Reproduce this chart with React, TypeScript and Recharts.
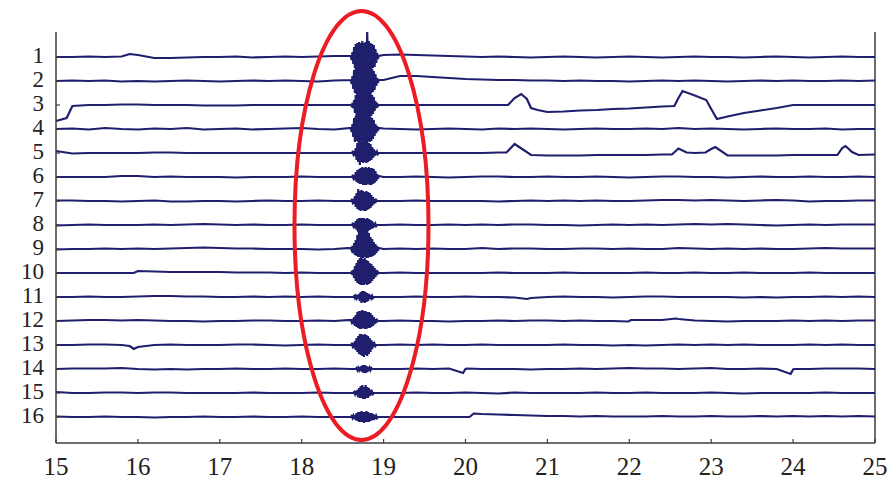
import React from "react";
import { LineChart, Line, XAxis, YAxis, ReferenceLine, ReferenceDot } from "recharts";

// sample times (s)
const BASE_T = [15.0, 15.2, 15.4, 15.6, 15.8, 16.0, 16.2, 16.4, 16.6, 16.8, 17.0, 17.2, 17.4, 17.6, 17.8, 18.0, 18.2, 18.4, 18.6, 18.8, 19.0, 19.2, 19.4, 19.6, 19.8, 20.0, 20.2, 20.4, 20.6, 20.8, 21.0, 21.2, 21.4, 21.6, 21.8, 22.0, 22.2, 22.4, 22.6, 22.8, 23.0, 23.2, 23.4, 23.6, 23.8, 24.0, 24.2, 24.4, 24.6, 24.8, 25.0];
const BURST_T = [18.6, 18.61, 18.62, 18.63, 18.64, 18.65, 18.66, 18.67, 18.68, 18.69, 18.7, 18.71, 18.72, 18.73, 18.74, 18.75, 18.76, 18.77, 18.78, 18.79, 18.8, 18.81, 18.82, 18.83, 18.84, 18.85, 18.86, 18.87, 18.88, 18.89, 18.9, 18.91, 18.92, 18.93, 18.94];

const X_TICKS = [15, 16, 17, 18, 19, 20, 21, 22, 23, 24, 25];
const CHANNEL_LABELS = [1, 2, 3, 4, 5, 6, 7, 8, 9, 10, 11, 12, 13, 14, 15, 16];

// amplitude units per channel spacing
const AMP = 24;

// channel signals (amplitude, up is positive); null = inside the burst window
const CH1_BASE = [0, 0, 0.5, 0, 0.5, 2, -1, -1, -0.5, 0, 0, 0.5, -0.5, 0, 0.5, 0, 0.5, 1, null, null, 2, 2.5, 2, 1.5, 1, 0.5, 0, 0.5, 0, -0.5, 0, 0.5, 0, -0.5, 0, 0.5, 0, -0.5, 0, 0.5, 0, 0, -0.5, 0, 0.5, 0, -0.5, 0, 0.5, 0, 0];
const CH1_BURST = [1, -3, 5, -7, 10, -11, 13, -12, 14, -12, 15, -13, 14, -12, 16, -13, 14, -12, 15, -13, 25, -12, 16, -13, 14, -12, 13, -11, 12, -10, 8, -6, 4, -2, 1];
const CH1_EXTRA = [[15.9, 3]];

const CH2_BASE = [0, 0.5, 0, 0.5, -0.5, 0, -0.5, 0, 0.5, 0, -0.5, 0, 0.5, 0, 0.5, 0, -0.5, 0.5, null, null, 1, 5, 5, 4, 3, 2, 1.5, 1, 1, 0.5, 0.5, 0, 0.5, 0, 0, -0.5, 0, 0.5, 0, 0.5, 0, -0.5, 0, 0.5, 0, 0.5, 0, 0, 0.5, 0, 0.5];
const CH2_BURST = [1, -3, 5, -8, 11, -12, 13, -13, 12, -13, 14, -12, 13, -13, 12, -14, 13, -12, 13, -13, 12, -13, 14, -12, 13, -12, 12, -11, 10, -9, 7, -5, 3, -2, 1];
const CH2_EXTRA: number[][] = [];

const CH3_BASE = [-16, -1, 0, 0, 0.5, 0.5, 0, 0, 0, -0.5, -0.5, -0.5, 0, 0, 0, 0, 0, 0, null, null, 0, 0, 0, 0, 0, 0, 0, 0, 7, -3, -7, -6.5, -5.5, -5, -4, -3.5, -2.5, -1.5, 7, 9.5, -4, -11.5, -8, -5.5, -3, 0, 0, 0, 0, 0, 0];
const CH3_BURST = [0, -1, 2, -3, 5, -8, 10, -12, 13, -12, 13, -13, 12, -13, 13, -12, 13, -13, 12, -13, 13, -12, 13, -12, 12, -11, 10, -9, 8, -6, 4, -3, 2, -1, 0];
const CH3_EXTRA = [[15.13, -13], [20.52, 0], [20.68, 11], [20.75, 6], [20.88, -5], [22.55, -1], [22.65, 14], [22.94, 5], [23.07, -14]];

const CH4_BASE = [0, 0.5, -0.5, 1, 0, -0.5, 0.5, 0, 1, -0.5, 0, 0.5, -0.5, 0, 0.5, 1, 0, -0.5, null, null, 0.5, 0, -0.5, 0, 0.5, 0, -0.5, 0.5, 0, 0.5, 0, -0.5, 0, 0.5, 0, 0, 0.5, 0, 1, 0, 0.5, 0, -0.5, 0, 0.5, 0, 0, 0.5, -0.5, 0, 0];
const CH4_BURST = [1, -3, 5, -8, 11, -13, 13, -12, 14, -13, 13, -14, 13, -12, 14, -13, 12, -14, 13, -13, 14, -12, 13, -13, 12, -12, 11, -10, 9, -7, 5, -4, 3, -2, 1];
const CH4_EXTRA: number[][] = [];

const CH5_BASE = [2, -0.5, 0, 0, 0, 0, 0.5, 0.5, 0, 0, 0, 0, 0, 0, 0, 0, 0, 0, null, null, 0, 0, 0, 0, 0, 0, 0, 0.5, 9, -2, -2.5, -2.5, -2.5, -2, -2, -2, -2, -1.5, 4.5, 0, 4, -2.5, -2.5, -2.5, -2.5, -2, -2, -2, 5, -2, -1.5];
const CH5_BURST = [0, 0, 1, -1, 2, -3, 5, -7, 10, -9, 12, -12, 12, -9, 11, -10, 12, -9, 11, -10, 12, -9, 10, -8, 9, -7, 6, -5, 4, -3, 2, -2, 1, -1, 0];
const CH5_EXTRA = [[20.5, 0.5], [22.52, -1.5], [22.7, 0.5], [22.93, 0.5], [23.05, 6], [24.54, -2], [24.64, 7], [24.72, 1]];

const CH6_BASE = [0, 0, 0, 0, 1, 1, 0, 0.5, 0, 0, 0, -0.5, 0, 0, 0, 0.5, 0, 0, null, null, 0, 0, 0.5, 0, -0.5, 0, 0.5, 0.5, 0, 0, 0.5, 0, 0, 0.5, 0, -0.5, 0, 0.5, 0.5, 0, 0, -0.5, 0, 0.5, 0, 0, 0.5, 0, 0, 0.5, 0];
const CH6_BURST = [0, 0, 1, -1, 2, -3, 5, -5, 7, -6, 8, -7, 9, -7, 10, -8, 9, -8, 10, -8, 9, -7, 10, -8, 9, -8, 9, -7, 8, -6, 6, -4, 3, -2, 1];
const CH6_EXTRA: number[][] = [];

const CH7_BASE = [0.5, 0.5, 0, 0, -0.5, 0, 0.5, -0.5, -0.5, 0, 0, -0.5, 0, 0.5, 0, 0, 0.5, 0, null, null, 0, 0, 0.5, 0, 0, 0, 0, -0.5, 0, 0.5, 0, 0.5, 0, 0.5, 0, 0, 0.5, 1, 1, 0.5, 1, 0.5, 0, 0.5, 1, 0.5, -0.5, 0, 0, 0.5, 0.5];
const CH7_BURST = [0, 1, -1, 2, -3, 5, -6, 8, -8, 12, -9, 10, -10, 11, -9, 10, -10, 9, -10, 10, -9, 9, -8, 8, -7, 6, -5, 4, -3, 2, -2, 1, 0, 0, 0];
const CH7_EXTRA: number[][] = [];

const CH8_BASE = [-0.5, 0, 0.5, 0, 0, 0, 0.5, 0, 0.5, 1, 0.5, 0, 0.5, 0, 0, 0.5, 0, 0, null, null, 0, 0.5, 0, 0, 0.5, 0, 0.5, 0, 0.5, 0.5, 0, 0, -0.5, 0, 0.5, 0, 0.5, 0, 0.5, 1, 0.5, 1, 0.5, 0, -0.5, 0, 0.5, 0, 0.5, 0.5, 0.5];
const CH8_BURST = [0, 0, 1, -1, 2, -3, 4, -5, 6, -7, 7, -6, 7, -7, 7, -6, 7, -7, 6, -7, 7, -6, 6, -5, 5, -4, 4, -3, 2, -2, 1, -1, 0, 0, 0];
const CH8_EXTRA: number[][] = [];

const CH9_BASE = [-0.5, 0, 0, 0.5, 0, 0.5, 0, 0.5, 1, 1.5, 1, 0.5, 0.5, 0, 0, 0, -0.5, 0, null, null, 0, 0.5, 0, 0.5, 0, 0, 1, 0, 0.5, 0.5, 0, 0, 0.5, 0.5, 0, 0.5, 0, 0, 1, 0.5, 0, 0.5, 0, 0.5, 0, 0, 0.5, 1, 0.5, 0.5, 0.5];
const CH9_BURST = [1, -1, 3, -4, 6, -6, 9, -7, 14, -8, 18, -8, 22, -9, 31, -9, 20, -8, 26, -9, 18, -9, 16, -8, 12, -8, 10, -7, 7, -6, 5, -4, 3, -2, 1];
const CH9_EXTRA: number[][] = [];

const CH10_BASE = [0, 0, 0, 0, 0, 2, 1.5, 1, 1, 1, 1, 0.5, 0.5, 0.5, 0, 0.5, 0, 0, null, null, 0, 0.5, 0, 0, 0, 0, 0, 0.5, 0, 0, 0, 0.5, 0, 0, 0, 0, 0.5, 0, 0, 0.5, 0, 0, 0.5, 0, 0, 0, 0.5, 0, 0, 0, 0];
const CH10_BURST = [0, 1, -2, 3, -5, 7, -8, 10, -10, 13, -11, 15, -12, 16, -12, 14, -12, 15, -11, 13, -12, 12, -11, 10, -10, 9, -8, 7, -6, 5, -4, 3, -2, 1, 0];
const CH10_EXTRA = [[15.95, 0]];

const CH11_BASE = [0, 0, 0.5, 0, 0, 0.5, 1, 1, 0.5, 0.5, 0, 0, 0.5, 0, 0.5, 0, 0.5, 0, null, null, 0, 0, 0.5, 0, 0, 0.5, 0, 0, -0.5, -1, 0, 0.5, 0, 0, -0.5, 0, 0.5, 0.5, 0, 0, 0, 0, -0.5, 0, -0.5, 0, 0, 0.5, 0, 0.5, 0];
const CH11_BURST = [0, 0, 0, 0, 1, -1, 1, -1, 2, -2, 3, -4, 5, -6, 6, -5, 6, -6, 5, -5, 4, -4, 3, -2, 2, -1, 1, -1, 0, 0, 0, 0, 0, 0, 0];
const CH11_EXTRA = [[20.75, -2]];

const CH12_BASE = [0, 0.5, 1, 1, 0.5, 1, 0.5, 0, 0, -0.5, 0, 0, 0.5, 0.5, 0, 0, 0.5, 0, null, null, 0, 0.5, 0, 0, -0.5, 0, 0, 0.5, 0, 0.5, 0.5, 0, 0.5, 0, 0, 0, 1, 1, 2, 0.5, 0, -0.5, 0, 0, 0, 0.5, 0, 0.5, 0, 0.5, 0.5];
const CH12_BURST = [1, -1, 2, -3, 4, -5, 6, -6, 9, -7, 10, -8, 10, -8, 11, -7, 10, -8, 10, -8, 9, -7, 9, -7, 8, -6, 6, -5, 4, -3, 2, -2, 1, 0, 0];
const CH12_EXTRA = [[21.98, -0.5], [22.02, 1], [22.57, 2.5]];

const CH13_BASE = [0, 0, 0.5, 0.5, 0, -2, 0, 0.5, 0, 0, 0, 0.5, 0.5, 0, -0.5, 0, 0.5, 0, null, null, 0, 0.5, 0, 0.5, 0, 0, 0.5, 0, 0, 0, 0, 0.5, 0, 0, -0.5, 0, -0.5, 0, 0.5, 0, 0.5, 0, 0.5, 0, 0, 0, 0.5, 0, 0.5, 0, 0];
const CH13_BURST = [0, 1, -1, 2, -3, 4, -5, 7, -7, 9, -9, 11, -10, 11, -11, 10, -12, 11, -10, 10, -11, 9, -9, 7, -7, 5, -4, 3, -2, 1, -1, 0, 0, 0, 0];
const CH13_EXTRA = [[15.9, -1], [15.95, -4]];

const CH14_BASE = [0, 0.5, 0.5, 0.5, 1, 0, -0.5, 0, -0.5, 0, 0, 0.5, 0, 0, 0.5, 0, 0, 0.5, null, null, 0, 0, 0.5, 0, 0.5, 0, 0, 0, 0, -0.5, 0, 0, 0.5, 0, 0.5, 1, 0.5, 0.5, 0, 0.5, 1, 0, 0, 0.5, 0, -0.5, 0, 0.5, 0.5, 0.5, 0];
const CH14_BURST = [0, 0, 0, 0, 0, 0, 0, 1, -1, 1, -1, 2, -2, 3, -3, 4, -4, 4, -4, 3, -3, 2, -2, 1, -1, 1, 0, 0, 0, 0, 0, 0, 0, 0, 0];
const CH14_EXTRA = [[19.97, -4], [20.02, 0.5], [23.97, -5], [24.02, 0]];

const CH15_BASE = [1, 0, 0, 0.5, 0.5, 0, 0.5, 0.5, 0, 0, 0, 0, 0.5, 0, 0, 0, 0.5, 0, null, null, 0, 0, 0.5, 0, 0, 0.5, 0, -0.5, 0.5, 0, 0, 0, 0, 0.5, 0, 0, 0.5, 0, 0, 0, 0.5, 0, -0.5, 0, 0, 0, 0, 0.5, 0, 0, 0];
const CH15_BURST = [0, 0, 0, 0, 1, -1, 2, -2, 3, -4, 5, -5, 7, -5, 8, -6, 6, -6, 8, -5, 6, -5, 5, -3, 3, -2, 1, -1, 0, 0, 0, 0, 0, 0, 0];
const CH15_EXTRA: number[][] = [];

const CH16_BASE = [0.5, 0, 0, 0.5, 0, 0, -0.5, 0, 0, 0.5, 0, 0, 0.5, 0, 0, 0.5, 0, 0, null, null, 0, 0, 0, 0, 0, 0, 3, 2.5, 2, 1.5, 1, 1, 0.5, 1, 0.5, 0.5, 0.5, 1, 0.5, 0.5, 1, 0.5, 0.5, 1, 0.5, 1, 0.5, 1, 0.5, 1, 0.5];
const CH16_BURST = [0, 1, -1, 1, -2, 2, -3, 4, -4, 5, -5, 5, -5, 6, -5, 5, -6, 5, -5, 6, -5, 5, -5, 4, -4, 4, -3, 3, -3, 2, -2, 1, -1, 0, 0];
const CH16_EXTRA = [[20.05, 0], [20.1, 3.5]];

const CHANNELS = [
  [CH1_BASE, CH1_BURST, CH1_EXTRA],
  [CH2_BASE, CH2_BURST, CH2_EXTRA],
  [CH3_BASE, CH3_BURST, CH3_EXTRA],
  [CH4_BASE, CH4_BURST, CH4_EXTRA],
  [CH5_BASE, CH5_BURST, CH5_EXTRA],
  [CH6_BASE, CH6_BURST, CH6_EXTRA],
  [CH7_BASE, CH7_BURST, CH7_EXTRA],
  [CH8_BASE, CH8_BURST, CH8_EXTRA],
  [CH9_BASE, CH9_BURST, CH9_EXTRA],
  [CH10_BASE, CH10_BURST, CH10_EXTRA],
  [CH11_BASE, CH11_BURST, CH11_EXTRA],
  [CH12_BASE, CH12_BURST, CH12_EXTRA],
  [CH13_BASE, CH13_BURST, CH13_EXTRA],
  [CH14_BASE, CH14_BURST, CH14_EXTRA],
  [CH15_BASE, CH15_BURST, CH15_EXTRA],
  [CH16_BASE, CH16_BURST, CH16_EXTRA],
];

function buildTrace(ch: number, base: (number | null)[], burst: number[], extra: number[][]) {
  const pts: number[][] = [];
  BASE_T.forEach((t, i) => {
    if (base[i] != null) pts.push([t, base[i] as number]);
  });
  BURST_T.forEach((t, i) => pts.push([t, burst[i]]));
  extra.forEach((p) => pts.push(p));
  pts.sort((a, b) => a[0] - b[0]);
  return pts.map(([x, v]) => ({ x, y: ch - v / AMP }));
}

const traces = CHANNELS.map(([b, s, e], i) => buildTrace(i + 1, b as any, s as number[], e as number[][]));

const FONT = "Liberation Serif, Times New Roman, serif";
const FRAME = "#3c3c3c";
const TRACE = "#1f1f6e";

const BottomTick = (props: any) => {
  const { x, y, payload } = props;
  return (
    <g>
      <line x1={x} y1={y} x2={x} y2={y - 4} stroke={FRAME} strokeWidth={1.2} />
      <text x={x} y={y + 32} textAnchor="middle" fontFamily={FONT} fontSize={25} fill="#222">
        {payload.value}
      </text>
    </g>
  );
};

const TopTick = (props: any) => {
  const { x, y } = props;
  return <line x1={x} y1={y} x2={x} y2={y + 4} stroke={FRAME} strokeWidth={1.2} />;
};

const LeftTick = (props: any) => {
  const { x, y, payload } = props;
  return (
    <g>
      <line x1={x} y1={y} x2={x + 4} y2={y} stroke={FRAME} strokeWidth={1.2} />
      <text x={x - 12} y={y + 6} textAnchor="end" fontFamily={FONT} fontSize={23} fill="#222">
        {payload.value}
      </text>
    </g>
  );
};

export default function App() {
  return (
    <div style={{ position: "absolute", left: 0, top: 0, background: "#fff" }}>
      <LineChart width={892} height={481} margin={{ top: 32, right: 17, bottom: 0, left: 0 }}>
        <XAxis
          dataKey="x"
          type="number"
          domain={[15, 25]}
          ticks={X_TICKS}
          interval={0}
          height={38}
          tickSize={0}
          tickMargin={0}
          tick={BottomTick}
          axisLine={{ stroke: FRAME, strokeWidth: 1.5 }}
        />
        <XAxis
          xAxisId="top"
          orientation="top"
          type="number"
          domain={[15, 25]}
          ticks={X_TICKS}
          interval={0}
          height={0}
          tickSize={0}
          tickMargin={0}
          tick={TopTick}
          axisLine={{ stroke: FRAME, strokeWidth: 1.5 }}
        />
        <YAxis
          type="number"
          reversed
          domain={[-0.042, 17.083]}
          ticks={CHANNEL_LABELS}
          interval={0}
          width={56}
          tickSize={0}
          tickMargin={0}
          tick={LeftTick}
          axisLine={{ stroke: FRAME, strokeWidth: 1.5 }}
        />
        <ReferenceLine x={25} stroke={FRAME} strokeWidth={1.5} />
        {traces.map((data, i) => (
          <Line
            key={i}
            data={data}
            dataKey="y"
            type="linear"
            stroke={TRACE}
            strokeWidth={2.2}
            dot={false}
            activeDot={false}
            isAnimationActive={false}
          />
        ))}
        <ReferenceDot
          x={18.73}
          y={8.02}
          r={1}
          ifOverflow="visible"
          shape={(p: any) => (
            <ellipse cx={p.cx} cy={p.cy} rx={67} ry={214.5} fill="none" stroke="#ec1c24" strokeWidth={4} />
          )}
        />
      </LineChart>
    </div>
  );
}
